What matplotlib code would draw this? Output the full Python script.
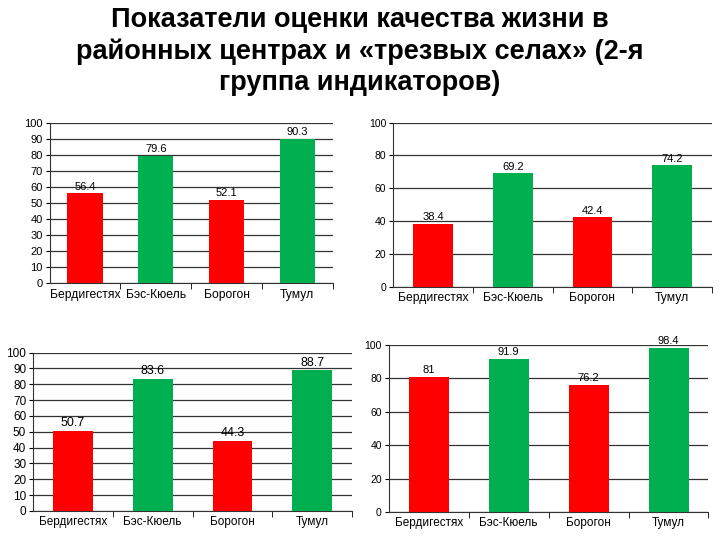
import matplotlib.pyplot as plt
import numpy as np

plt.rcParams['font.family'] = ['Liberation Sans', 'DejaVu Sans']

# Данные
categories = ['Бердигестях', 'Бэс-Кюель', 'Борогон', 'Тумул']
bar_colors = ['#FF0000', '#00B050', '#FF0000', '#00B050']

values_1 = [56.4, 79.6, 52.1, 90.3]
values_2 = [38.4, 69.2, 42.4, 74.2]
values_3 = [50.7, 83.6, 44.3, 88.7]
values_4 = [81, 91.9, 76.2, 98.4]

value_labels_1 = ['56.4', '79.6', '52.1', '90.3']
value_labels_2 = ['38.4', '69.2', '42.4', '74.2']
value_labels_3 = ['50.7', '83.6', '44.3', '88.7']
value_labels_4 = ['81', '91.9', '76.2', '98.4']

yticks_10 = list(range(0, 101, 10))
yticks_20 = list(range(0, 101, 20))

fig = plt.figure(figsize=(7.2, 5.4), dpi=100)
fig.patch.set_facecolor('white')

fig.text(0.5, 0.987,
         'Показатели оценки качества жизни в\nрайонных центрах и «трезвых селах» (2-я\nгруппа индикаторов)',
         ha='center', va='top', fontsize=19.5, fontweight='bold', linespacing=1.25)


def нарисовать(rect, values, labels, yticks, ytick_size, label_size, xtick_size):
    ax = fig.add_axes(rect)
    x = np.arange(len(categories))
    ax.bar(x, values, width=0.5, color=bar_colors, zorder=3)
    for xi, v, t in zip(x, values, labels):
        ax.text(xi, v + 0.8, t, ha='center', va='bottom', fontsize=label_size, zorder=4)
    ax.set_xlim(-0.5, 3.5)
    ax.set_ylim(0, 100)
    ax.set_yticks(yticks)
    ax.tick_params(axis='y', labelsize=ytick_size, length=3, direction='out', pad=2)
    ax.set_xticks(x)
    ax.set_xticklabels(categories, fontsize=xtick_size)
    ax.tick_params(axis='x', which='major', length=0, pad=4)
    ax.set_xticks([0.5, 1.5, 2.5, 3.5], minor=True)
    ax.tick_params(axis='x', which='minor', length=4)
    ax.yaxis.grid(True, color='#333333', linewidth=0.9, zorder=0)
    for s in ['top', 'right']:
        ax.spines[s].set_visible(False)
    ax.spines['left'].set_color('#333333')
    ax.spines['bottom'].set_color('#333333')
    return ax


нарисовать([0.069, 0.476, 0.393, 0.296], values_1, value_labels_1, yticks_10, 8, 8, 8.7)
нарисовать([0.546, 0.469, 0.443, 0.304], values_2, value_labels_2, yticks_20, 7.5, 8, 8.7)
нарисовать([0.046, 0.054, 0.443, 0.293], values_3, value_labels_3, yticks_10, 8.5, 9, 8.5)
нарисовать([0.540, 0.052, 0.444, 0.309], values_4, value_labels_4, yticks_20, 7.5, 8, 8.5)

fig.savefig('out.png', dpi=100)
